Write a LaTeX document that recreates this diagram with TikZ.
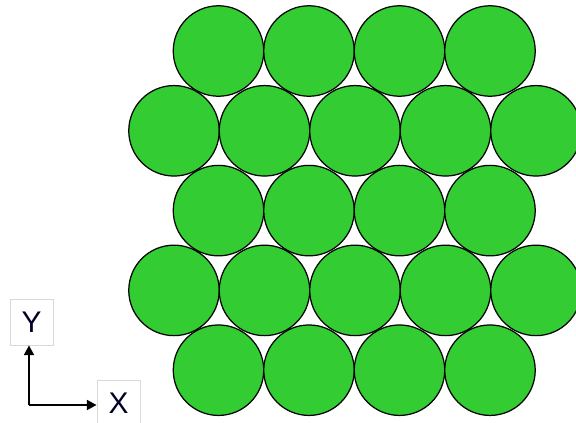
\documentclass[tikz,border=0pt]{standalone}
\usepackage{fontspec}
\setmainfont{Liberation Sans}
\usetikzlibrary{arrows.meta}
\definecolor{discgreen}{RGB}{51,204,51}

\begin{document}
\begin{tikzpicture}[
  x=0.02cm, y=-0.02cm,
  disc/.style={circle, draw=black, fill=discgreen, line width=0.7pt, inner sep=0pt, minimum size=1.81cm},
  axlabel/.style={draw=gray!30, fill=white, inner sep=0pt, minimum width=0.86cm, minimum height=0.92cm, font=\fontsize{17}{20}\selectfont, text=black!85!blue},
  axis/.style={line width=1.5pt, -{Triangle[length=5.5pt, width=5.5pt]}}
]
  \useasboundingbox (0,0) rectangle (576,423);

  % Filas de 4 discos (1, 3, 5)
  \foreach \i in {1,3,5} {
    \pgfmathsetmacro{\yy}{51 + (\i-1)*79.8}
    \foreach \j in {1,...,4} {
      \pgfmathsetmacro{\xx}{218.5 + (\j-1)*90.5}
      \node[disc] (d\i\j) at (\xx,\yy) {};
    }
  }

  % Filas de 5 discos (2, 4)
  \foreach \i in {2,4} {
    \pgfmathsetmacro{\yy}{51 + (\i-1)*79.8}
    \foreach \j in {1,...,5} {
      \pgfmathsetmacro{\xx}{174 + (\j-1)*90.5}
      \node[disc] (d\i\j) at (\xx,\yy) {};
    }
  }

  % Ejes
  \coordinate (o) at (29,405);
  \node[axlabel] (ylab) at (31.5,322) {Y};
  \node[axlabel] (xlab) at (118.5,403) {X};
  \draw[axis] (o) -- (o |- ylab.south);
  \draw[axis] (o) -- (o -| xlab.west);
\end{tikzpicture}
\end{document}
